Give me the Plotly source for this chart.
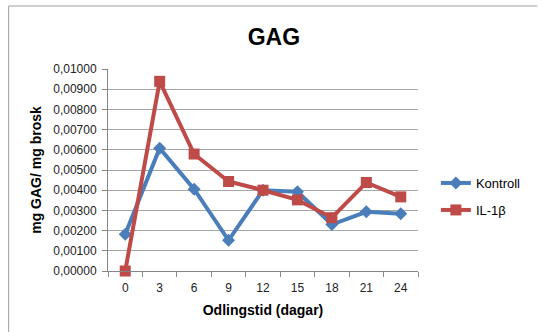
import plotly.graph_objects as go

days = ["0", "3", "6", "9", "12", "15", "18", "21", "24"]
kontroll = [0.00182, 0.00608, 0.00405, 0.00152, 0.00400, 0.00392, 0.00230, 0.00293, 0.00284]
il1b = [0.00000, 0.00939, 0.00579, 0.00443, 0.00400, 0.00352, 0.00264, 0.00438, 0.00367]
y_ticks = [i * 0.001 for i in range(11)]

FONT = "Liberation Sans, Arial, sans-serif"
BLUE = "#4A7EBB"
RED = "#BE4B48"

L, R, T, B = 108, 118, 69, 61
W, H = 538, 332
pw, ph = W - L - R, H - T - B

def px_x(x):
    return (x - L) / pw

def px_y(y):
    return (H - B - y) / ph

fig = go.Figure()
fig.add_trace(go.Scatter(
    x=days, y=kontroll, name="Kontroll", mode="lines+markers",
    line=dict(color=BLUE, width=4),
    marker=dict(symbol="diamond", size=10, color=BLUE),
    cliponaxis=False, legend="legend", showlegend=True,
))
fig.add_trace(go.Scatter(
    x=days, y=il1b, name="IL-1β", mode="lines+markers",
    line=dict(color=RED, width=4),
    marker=dict(symbol="square", size=11, color=RED),
    cliponaxis=False, legend="legend2", showlegend=True,
))

legend_common = dict(
    xanchor="left", yanchor="middle",
    font=dict(size=13, family=FONT, color="#000000"),
    bgcolor="rgba(0,0,0,0)", visible=True,
)

fig.update_layout(
    width=W, height=H,
    margin=dict(l=L, r=R, t=T, b=B),
    paper_bgcolor="white", plot_bgcolor="white",
    separators=", ",
    showlegend=True,
    font=dict(family=FONT, color="#000000", size=11),
    title=dict(text="<b>GAG</b>", font=dict(size=23, family=FONT, color="#000000"),
               x=px_x(275), xref="paper", xanchor="center",
               y=1 - 37 / H, yref="container", yanchor="middle"),
    xaxis=dict(
        type="category", tickson="boundaries", ticks="outside", ticklen=5,
        tickcolor="#868686", showline=True, linecolor="#868686", linewidth=1,
        showgrid=False, range=[-0.5, 8.5], ticklabelstandoff=6,
        tickfont=dict(size=12, family=FONT, color="#222222"),
        title=dict(text="<b>Odlingstid (dagar)</b>", font=dict(size=14, family=FONT), standoff=10),
    ),
    yaxis=dict(
        range=[0, 0.01], tickvals=y_ticks, tickformat=".5f",
        ticks="outside", ticklen=5, tickcolor="#868686",
        showline=True, linecolor="#868686", linewidth=1,
        showgrid=True, gridcolor="#A6A6A6", gridwidth=1, zeroline=False,
        ticklabelstandoff=3,
        tickfont=dict(size=12, family=FONT, color="#222222"),
        title=dict(text="<b>mg GAG/ mg brosk</b>", font=dict(size=14, family=FONT), standoff=8),
    ),
    legend=dict(x=px_x(438), y=px_y(183), **legend_common),
    legend2=dict(x=px_x(438), y=px_y(210), **legend_common),
    shapes=[
        dict(type="line", xref="paper", yref="paper",
             x0=px_x(8), x1=px_x(540), y0=px_y(6), y1=px_y(6),
             line=dict(color="#A0A0A0", width=1)),
        dict(type="line", xref="paper", yref="paper",
             x0=px_x(8), x1=px_x(8), y0=px_y(6), y1=px_y(334),
             line=dict(color="#A0A0A0", width=1)),
    ],
)

fig.write_html("out.html")
